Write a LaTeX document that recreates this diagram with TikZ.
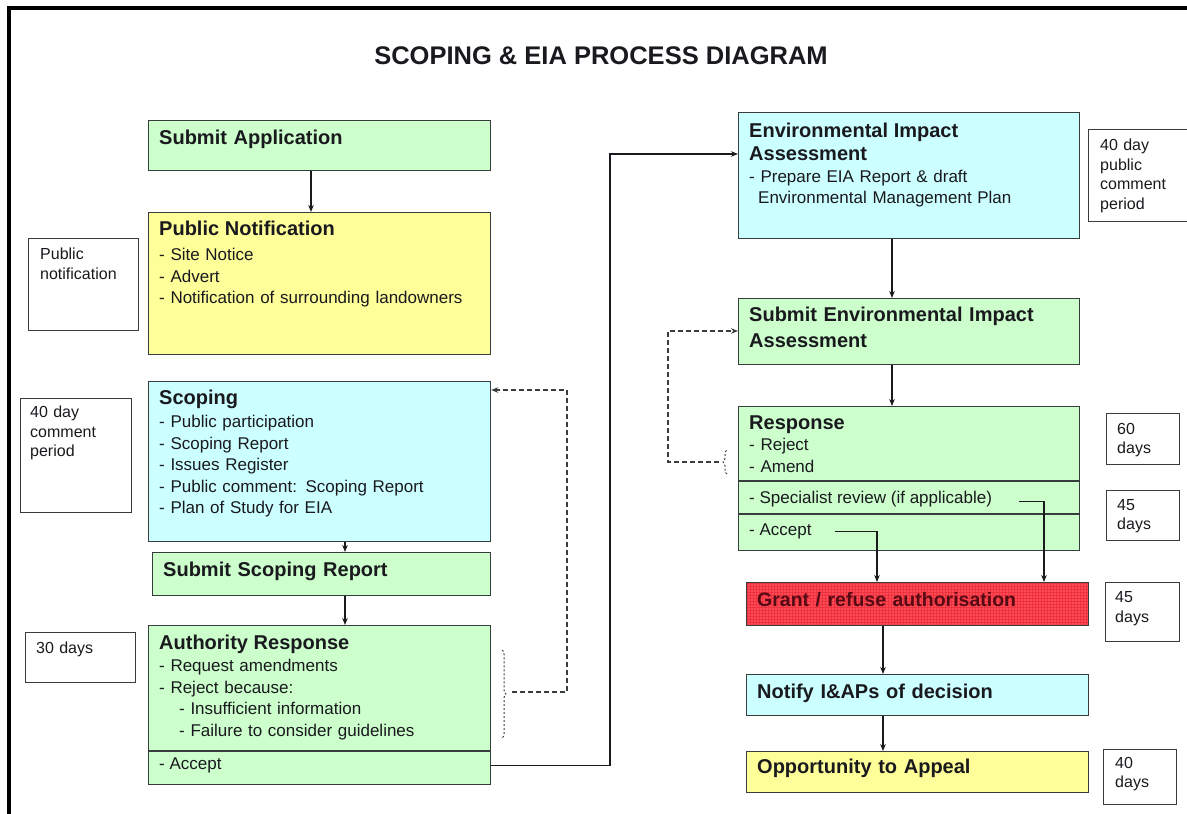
\documentclass[tikz,border=0pt]{standalone}
\usepackage{fontspec}
\setmainfont{Liberation Sans}
\usetikzlibrary{arrows.meta, decorations.pathreplacing, patterns}
\definecolor{eiagreen}{RGB}{204,255,204}
\definecolor{eiayellow}{RGB}{255,255,153}
\definecolor{eiacyan}{RGB}{204,255,255}
\definecolor{eiared}{RGB}{255,75,85}
\definecolor{eiagrid}{RGB}{236,50,62}
\definecolor{eiaedge}{RGB}{55,60,60}
\definecolor{eiatext}{RGB}{25,25,30}
\definecolor{granttext}{RGB}{85,10,20}

\newcommand{\titlefont}{\fontsize{25.5}{30}\selectfont\bfseries}
\newcommand{\hdfont}{\fontsize{20}{24}\selectfont\bfseries}
\newcommand{\itemfont}{\fontsize{17}{21.5}\selectfont}
\newcommand{\notefont}{\fontsize{16}{19.5}\selectfont}

\begin{document}
\begin{tikzpicture}[
    x=1pt, y=-1pt,
    stepbox/.style={draw=eiaedge, line width=1.2pt, inner sep=0pt, anchor=north west, minimum width=342pt},
    notebox/.style={draw=eiaedge, line width=1.2pt, inner sep=0pt, anchor=north west},
    steptext/.style={anchor=north west, inner xsep=11pt, inner ysep=9pt, text width=325pt, align=left, font=\itemfont, text=eiatext},
    headtext/.style={steptext, font=\hdfont},
    linetext/.style={anchor=north west, inner xsep=11pt, inner ysep=9pt, font=\itemfont, text=eiatext},
    notetext/.style={anchor=north west, inner xsep=11pt, inner ysep=9pt, text width=80pt, align=left, font=\notefont, text=eiatext},
    arrow/.style={-{Stealth[length=7pt, width=5.5pt]}, line width=1.1pt, draw=eiatext},
    dasharrow/.style={arrow, dash pattern=on 5pt off 3pt, draw=eiaedge},
    bracemark/.style={dash pattern=on 2pt off 2pt, line width=1pt, draw=eiaedge, decorate, decoration={brace, amplitude=4pt}}
]
    \useasboundingbox (0,0) rectangle (1187,814);
    \draw[line width=3.5pt] (9,816) -- (9,8) -- (1190,8);

    \node[font=\titlefont, text=eiatext] (title) at (601,56) {SCOPING \& EIA PROCESS DIAGRAM};

    % left column
    \node[stepbox, fill=eiagreen, minimum height=50pt] (submitapp) at (148,120) {};
    \node[headtext, inner ysep=10pt] (submitapp-t) at (submitapp.north west) {Submit Application};

    \node[stepbox, fill=eiayellow, minimum height=142pt] (pubnotif) at (148,212) {};
    \node[steptext] (pubnotif-t) at (pubnotif.north west) {{\hdfont Public Notification}\\[3.5pt]
        - Site Notice\\- Advert\\- Notification of surrounding landowners};

    \node[stepbox, fill=eiacyan, minimum height=160pt] (scoping) at (148,381) {};
    \node[steptext] (scoping-t) at (scoping.north west) {{\hdfont Scoping}\\[1.5pt]
        - Public participation\\- Scoping Report\\- Issues Register\\
        - Public comment: Scoping Report\\- Plan of Study for EIA};

    \node[stepbox, fill=eiagreen, minimum width=338pt, minimum height=43pt] (subscoping) at (152,552) {};
    \node[headtext, inner ysep=10pt] (subscoping-t) at (subscoping.north west) {Submit Scoping Report};

    \node[stepbox, fill=eiagreen, minimum height=159pt] (authresp) at (148,625) {};
    \node[steptext, inner ysep=10pt] (authresp-t) at (authresp.north west) {{\hdfont Authority Response}\\[0.5pt]
        - Request amendments\\- Reject because:\\
        \hspace*{20pt}- Insufficient information\\
        \hspace*{20pt}- Failure to consider guidelines};
    \coordinate (authdiv) at (148,751);
    \draw[draw=eiaedge, line width=1.2pt] (authdiv) -- (authdiv -| authresp.east);
    \node[linetext, inner ysep=7pt] (authaccept) at (authdiv) {- Accept};

    % left notes
    \node[notebox, minimum width=110pt, minimum height=92pt] (pubnote) at (28,238) {};
    \node[notetext, inner xsep=12pt, inner ysep=10pt] (pubnote-t) at (pubnote.north west) {Public\\notification};
    \node[notebox, minimum width=111pt, minimum height=114pt] (scopenote) at (20,398) {};
    \node[notetext, inner xsep=10pt, inner ysep=8pt] (scopenote-t) at (scopenote.north west) {40 day\\comment\\period};
    \node[notebox, minimum width=110pt, minimum height=50pt] (authnote) at (25,632) {};
    \node[notetext, inner ysep=9.5pt] (authnote-t) at (authnote.north west) {30 days};

    % right column
    \node[stepbox, fill=eiacyan, minimum width=341pt, minimum height=126pt] (eia) at (738,112) {};
    \node[steptext, inner ysep=11pt] (eia-t) at (eia.north west) {{\hdfont Environmental Impact\\[1.5pt]Assessment}\\
        - Prepare EIA Report \& draft\\\hspace*{9pt}Environmental Management Plan};

    \node[stepbox, fill=eiagreen, minimum width=341pt, minimum height=66pt] (subeia) at (738,298) {};
    \node[headtext, inner ysep=9pt] (subeia-t) at (subeia.north west) {Submit Environmental Impact\\[2pt]Assessment};

    \node[stepbox, fill=eiagreen, minimum width=341pt, minimum height=144pt] (response) at (738,406) {};
    \node[steptext, inner ysep=10pt] (response-t) at (response.north west) {{\hdfont Response}\\[-0.5pt]
        - Reject\\- Amend};
    \coordinate (respdiv1) at (738,481);
    \coordinate (respdiv2) at (738,514);
    \draw[draw=eiaedge, line width=1.2pt] (respdiv1) -- (respdiv1 -| response.east);
    \draw[draw=eiaedge, line width=1.2pt] (respdiv2) -- (respdiv2 -| response.east);
    \node[linetext, inner ysep=9.5pt] (respreview) at (respdiv1) {- Specialist review (if applicable)};
    \node[linetext, inner ysep=9.5pt] (respaccept) at (respdiv2) {- Accept};

    \node[stepbox, preaction={fill=eiared}, pattern=grid, pattern color=eiagrid, minimum height=43pt] (grant) at (746,582) {};
    \node[headtext, font=\fontsize{19.5}{24}\selectfont\bfseries, text=granttext, inner ysep=10pt] (grant-t) at (grant.north west) {Grant / refuse authorisation};

    \node[stepbox, fill=eiacyan, minimum height=41pt] (notify) at (746,674) {};
    \node[headtext, inner ysep=9.5pt] (notify-t) at (notify.north west) {Notify I\&APs of decision};

    \node[stepbox, fill=eiayellow, minimum height=41pt] (appeal) at (746,751) {};
    \node[headtext, inner ysep=8pt] (appeal-t) at (appeal.north west) {Opportunity to Appeal};

    % right notes
    \node[notebox, minimum width=101pt, minimum height=92pt] (eianote) at (1088,129) {};
    \node[notetext, inner xsep=12pt, inner ysep=10pt] (eianote-t) at (eianote.north west) {40 day\\public\\comment\\period};
    \node[notebox, minimum width=73pt, minimum height=51pt] (respnote) at (1106,413) {};
    \node[notetext, inner ysep=10pt] (respnote-t) at (respnote.north west) {60\\days};
    \node[notebox, minimum width=73pt, minimum height=50pt] (reviewnote) at (1106,490) {};
    \node[notetext, inner ysep=9pt] (reviewnote-t) at (reviewnote.north west) {45\\days};
    \node[notebox, minimum width=74pt, minimum height=59pt] (grantnote) at (1105,582) {};
    \node[notetext, inner xsep=10pt, inner ysep=9.5pt] (grantnote-t) at (grantnote.north west) {45\\days};
    \node[notebox, minimum width=73pt, minimum height=55pt] (appealnote) at (1103,749) {};
    \node[notetext, inner xsep=12pt, inner ysep=8pt] (appealnote-t) at (appealnote.north west) {40\\days};

    % connectors
    \coordinate (appcol) at (311,0);
    \coordinate (scopecol) at (345,0);
    \coordinate (eiacol) at (892,0);
    \coordinate (grantcol) at (883,0);
    \coordinate (acceptdrop) at (877,0);
    \coordinate (reviewdrop) at (1044,0);
    \draw[arrow] (submitapp.south -| appcol) -- (pubnotif.north -| appcol);
    \draw[arrow] (scoping.south -| scopecol) -- (subscoping.north -| scopecol);
    \draw[arrow] (subscoping.south -| scopecol) -- (authresp.north -| scopecol);
    \draw[arrow] (eia.south -| eiacol) -- (subeia.north -| eiacol);
    \draw[arrow] (subeia.south -| eiacol) -- (response.north -| eiacol);
    \draw[arrow] (grant.south -| grantcol) -- (notify.north -| grantcol);
    \draw[arrow] (notify.south -| grantcol) -- (appeal.north -| grantcol);

    \coordinate (acceptbend) at (610,154);
    \draw[arrow] (authresp.east |- authaccept) -| (acceptbend) -- (eia.west |- acceptbend);
    \draw[arrow] ([xshift=12pt]respaccept.east) -| (grant.north -| acceptdrop);
    \draw[arrow] ([xshift=16pt, yshift=-3pt]respreview.east) -| (grant.north -| reviewdrop);

    \draw[bracemark] (502,650) -- (502,738);
    \coordinate (authtip) at (512,692);
    \coordinate (scopeturn) at (567,390);
    \draw[dasharrow] (authtip) -| (scopeturn) -- (scoping.east |- scopeturn);

    \draw[bracemark] (727,474) -- (727,450);
    \coordinate (resptip) at (719,462);
    \coordinate (subeiaturn) at (668,331);
    \draw[dasharrow] (resptip) -| (subeiaturn) -- (subeia.west |- subeiaturn);
\end{tikzpicture}
\end{document}
